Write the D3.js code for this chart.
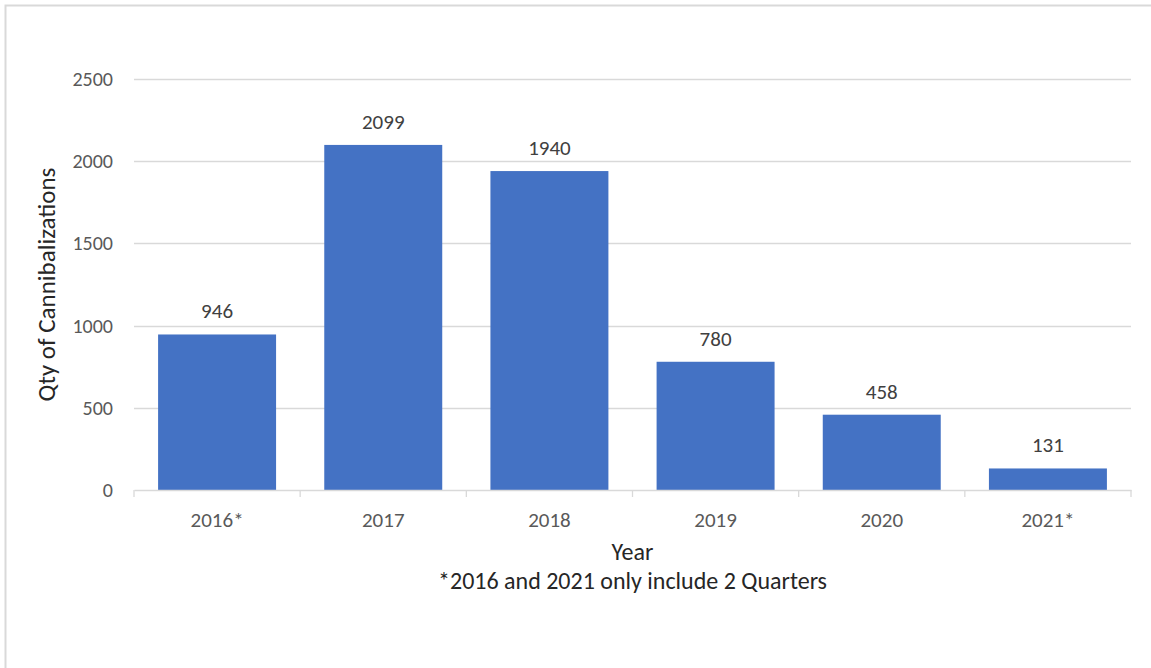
<!DOCTYPE html>
<html><head><meta charset="utf-8">
<script src="https://cdn.jsdelivr.net/npm/d3@7"></script>
<style>body{margin:0;background:#fff}svg{display:block}text{font-family:Carlito,Calibri,Lato,"Open Sans",sans-serif}</style>
</head><body><svg id="c" width="1151" height="668"></svg>
<script>
const categories = ["2016*","2017","2018","2019","2020","2021*"];
const values = [946,2099,1940,780,458,131];
const yTicks = [0,500,1000,1500,2000,2500];
const yTitle = "Qty of Cannibalizations";
const xTitle = "Year";
const footnote = "*2016 and 2021 only include 2 Quarters";

const FF = "Carlito,Calibri,Lato,'Open Sans',sans-serif";
const svg = d3.select("#c");
const W = 1151, H = 668;
svg.append("rect").attr("x",0).attr("y",0).attr("width",W).attr("height",H).attr("fill","#fff");
svg.append("path").attr("d","M5.5,"+(H)+"V5.5H"+W).attr("fill","none").attr("stroke","#d9d9d9").attr("stroke-width",2);

const m = {l:134, r:1131, t:79, b:490};
const x = d3.scaleBand().domain(categories).range([m.l,m.r]).paddingInner(0.29).paddingOuter(0.145);
const y = d3.scaleLinear().domain([0,2500]).range([m.b,m.t]);

svg.append("g").selectAll("line").data(yTicks.filter(d=>d>0)).join("line")
  .attr("x1",m.l).attr("x2",m.r).attr("y1",d=>Math.round(y(d))+0.5).attr("y2",d=>Math.round(y(d))+0.5)
  .attr("stroke","#d9d9d9").attr("stroke-width",1.3);

const ya = svg.append("g").attr("transform",`translate(${m.l},0)`)
  .call(d3.axisLeft(y).tickValues(yTicks).tickSize(0).tickPadding(21).tickFormat(d3.format("d")));
ya.select(".domain").remove();
ya.selectAll("text").style("font-size","20px").attr("fill","#595959").style("font-family",FF);

svg.append("g").selectAll("rect").data(values).join("rect")
  .attr("x",(d,i)=>x(categories[i])).attr("width",x.bandwidth())
  .attr("y",d=>y(d)).attr("height",d=>y(0)-y(d)).attr("fill","#4472c4");

svg.append("g").selectAll("text").data(values).join("text")
  .attr("x",(d,i)=>x(categories[i])+x.bandwidth()/2).attr("y",d=>y(d)-16)
  .attr("text-anchor","middle").style("font-size","21px").attr("fill","#404040").text(d=>d);

const xa = svg.append("g").attr("transform",`translate(0,${m.b})`)
  .call(d3.axisBottom(x).tickSize(0).tickPadding(22));
xa.select(".domain").attr("stroke","#d9d9d9").attr("stroke-width",1.3);
xa.selectAll("text").style("font-size","21px").attr("fill","#595959").style("font-family",FF);
const bounds = categories.map((c,i)=>m.l + (m.r-m.l)*i/categories.length).concat([m.r]);
svg.append("g").selectAll("line").data(bounds).join("line")
  .attr("x1",d=>d).attr("x2",d=>d).attr("y1",m.b).attr("y2",m.b+7)
  .attr("stroke","#d9d9d9").attr("stroke-width",1.3);

svg.append("text").attr("transform",`translate(55,${(m.t+m.b)/2}) rotate(-90)`)
  .attr("text-anchor","middle").style("font-size","25px").attr("fill","#262626").text(yTitle);
svg.append("text").attr("x",(m.l+m.r)/2).attr("y",560).attr("text-anchor","middle")
  .style("font-size","24px").attr("fill","#262626").text(xTitle);
svg.append("text").attr("x",(m.l+m.r)/2).attr("y",589).attr("text-anchor","middle")
  .style("font-size","24px").attr("fill","#262626").text(footnote);
</script></body></html>
